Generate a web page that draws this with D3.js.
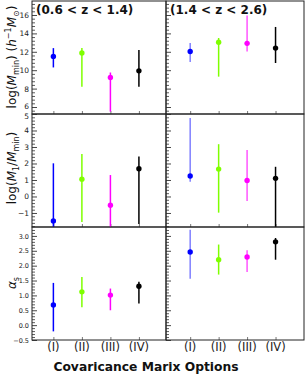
<!DOCTYPE html>
<html><head><meta charset="utf-8">
<script src="https://cdn.jsdelivr.net/npm/d3@7"></script>
<style>body{margin:0;background:#fff}svg{display:block;font-family:"DejaVu Sans",sans-serif}</style>
</head><body><svg id="c" width="305" height="374"></svg>
<script>
const categories = ["(I)","(II)","(III)","(IV)"];
const colors = ["#0000ff","#7fff00","#ff00ff","#000000"];
const barColorsRight = ["#8080ff","#7fff00","#ff55ff","#000000"];
const zLabels = ["(0.6 < z < 1.4)","(1.4 < z < 2.6)"];
// [value, upper, lower] per category; left = low z, right = high z
const mminLeft  = [[11.5,12.4,10.3],[11.87,12.4,8.2],[9.2,9.75,5.5],[9.93,12.2,8.2]];
const mminRight = [[12.04,12.96,10.88],[13.03,13.5,9.3],[12.92,15.95,12.04],[12.4,14.7,10.78]];
const m1Left    = [[-1.49,2.01,-2.5],[1.05,2.58,-1.55],[-0.53,1.3,-2.3],[1.68,2.42,-1.67]];
const m1Right   = [[1.24,4.75,0.89],[1.66,3.17,-0.98],[0.97,2.82,-0.27],[1.1,1.8,-2.2]];
const alphaLeft = [[0.68,1.42,-0.21],[1.12,1.62,0.6],[1.01,1.23,0.5],[1.31,1.46,0.73]];
const alphaRight= [[2.46,3.21,1.56],[2.2,2.71,1.7],[2.29,2.52,1.79],[2.8,2.93,2.2]];
const mminTicks = [6,8,10,12,14,16];
const m1Ticks = [-1,0,1,2,3,4,5];
const alphaTicks = [-0.5,0,0.5,1,1.5,2,2.5,3];

const svg = d3.select("#c");
const rows = [
  {y0:1,y1:114,domain:[5.24,17.52],ticks:mminTicks,minor:0.4,fmt:d3.format("d"),data:[mminLeft,mminRight]},
  {y0:114,y1:227,domain:[-1.85,5.0],ticks:m1Ticks,minor:0.2,fmt:d3.format("d"),data:[m1Left,m1Right]},
  {y0:227,y1:340,domain:[-0.5,3.3],ticks:alphaTicks,minor:0.1,fmt:d3.format(".1f"),data:[alphaLeft,alphaRight]}
];
const cols = [{x0:32,x1:166,domain:[0.25,4.95]},{x0:166,x1:304,domain:[0.15,5.0]}];

rows.forEach((r,ri)=>{
  const y = d3.scaleLinear().domain(r.domain).range([r.y1,r.y0]);
  cols.forEach((c,ci)=>{
    const x = d3.scaleLinear().domain(c.domain).range([c.x0,c.x1]);
    const id = "clip"+ri+ci;
    svg.append("clipPath").attr("id",id).append("rect")
      .attr("x",c.x0).attr("y",r.y0).attr("width",c.x1-c.x0).attr("height",r.y1-r.y0);
    const g = svg.append("g");
    const inDom = r.ticks.filter(t=>t>=r.domain[0]-1e-9&&t<=r.domain[1]+1e-9);
    // minor ticks
    const minors = d3.range(Math.ceil(r.domain[0]/r.minor)*r.minor, r.domain[1], r.minor)
      .filter(v=>!r.ticks.some(t=>Math.abs(t-v)<1e-6));
    const yAx = d3.axisRight(y).tickValues(minors).tickSize(3).tickFormat("");
    g.append("g").attr("transform",`translate(${c.x0},0)`).call(yAx)
      .call(a=>a.select(".domain").remove()).selectAll("line").attr("stroke","#333").attr("stroke-width",0.8);
    const yMaj = d3.axisRight(y).tickValues(inDom).tickSize(5).tickFormat("");
    g.append("g").attr("transform",`translate(${c.x0},0)`).call(yMaj)
      .call(a=>a.select(".domain").remove()).selectAll("line").attr("stroke","#333").attr("stroke-width",0.9);
    if(ci===0){
      const yl = d3.axisLeft(y).tickValues(inDom).tickSize(0).tickPadding(3).tickFormat(r.fmt);
      const ax = g.append("g").attr("transform",`translate(${c.x0},0)`).call(yl)
        .call(a=>a.select(".domain").remove());
      ax.selectAll("text").attr("font-size",ri===2?6.5:7.5).attr("fill","#222").attr("font-family","DejaVu Sans")
        .attr("dy",(d)=> (ri===1&&d===5) ? "0.6em" : (ri===0&&d===6 ? "0.2em" : "0.32em"));
    }
    // x ticks (inward from bottom)
    const xAx = d3.axisTop(x).tickValues([1,2,3,4]).tickSize(3).tickFormat("");
    g.append("g").attr("transform",`translate(0,${r.y1})`).call(xAx)
      .call(a=>a.select(".domain").remove()).selectAll("line").attr("stroke","#555").attr("stroke-width",0.8);
    // frame
    g.append("rect").attr("x",c.x0).attr("y",r.y0).attr("width",c.x1-c.x0).attr("height",r.y1-r.y0)
      .attr("fill","none").attr("stroke","#222").attr("stroke-width",1);
    // data
    const pts = g.append("g").attr("clip-path",`url(#${id})`);
    r.data[ci].forEach((d,i)=>{
      pts.append("line").attr("x1",x(i+1)).attr("x2",x(i+1)).attr("y1",y(d[1])).attr("y2",y(d[2]))
        .attr("stroke",ci===0?colors[i]:barColorsRight[i]).attr("stroke-width",1.5);
      pts.append("circle").attr("cx",x(i+1)).attr("cy",y(d[0])).attr("r",2.7).attr("fill",colors[i]);
    });
    if(ri===0){
      svg.append("text").attr("x",c.x0+4).attr("y",14).attr("font-weight","bold").attr("font-size",12)
        .attr("fill","#111").text(zLabels[ci]);
    }
    if(ri===2){
      g.selectAll(".xl").data(categories).enter().append("text")
        .attr("x",(d,i)=>x(i+1)).attr("y",351).attr("text-anchor","middle").attr("font-size",11.5)
        .attr("fill","#222").text(d=>d);
    }
  });
});
// y labels
function ylabel(cy, build){
  const t = svg.append("text").attr("transform",`translate(16,${cy}) rotate(-90)`)
    .attr("text-anchor","middle").attr("font-size",12).attr("fill","#111");
  build(t);
}
ylabel(57,t=>{
  t.append("tspan").text("log(");
  t.append("tspan").attr("font-style","italic").text("M");
  t.append("tspan").attr("font-size",8).attr("dy",3).text("min");
  t.append("tspan").attr("dy",-3).text(") (");
  t.append("tspan").attr("font-style","italic").text("h");
  t.append("tspan").attr("font-size",8).attr("dy",-5).text("−1");
  t.append("tspan").attr("dy",5).attr("font-style","italic").text("M");
  t.append("tspan").attr("font-size",8).attr("dy",3).text("⊙");
  t.append("tspan").attr("dy",-3).text(")");
});
ylabel(168,t=>{
  t.append("tspan").text("log(");
  t.append("tspan").attr("font-style","italic").text("M");
  t.append("tspan").attr("font-size",8).attr("dy",3).text("1");
  t.append("tspan").attr("dy",-3).text("/");
  t.append("tspan").attr("font-style","italic").text("M");
  t.append("tspan").attr("font-size",8).attr("dy",3).text("min");
  t.append("tspan").attr("dy",-3).text(")");
});
ylabel(283,t=>{
  t.append("tspan").attr("font-style","italic").text("α");
  t.append("tspan").attr("font-size",8).attr("dy",3).text("s");
});
svg.append("text").attr("x",146).attr("y",371).attr("text-anchor","middle").attr("font-weight","bold")
  .attr("font-size",12.3).attr("fill","#111").text("Covaricance Marix Options");
</script></body></html>
